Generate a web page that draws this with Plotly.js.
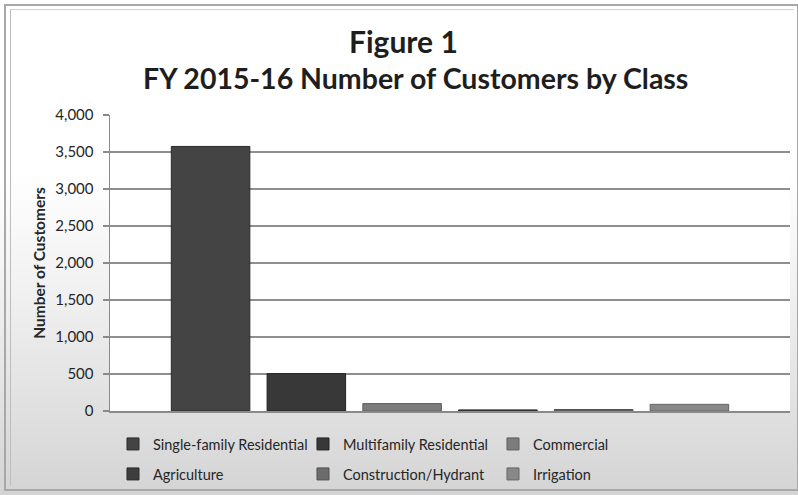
<!DOCTYPE html>
<html>
<head>
<meta charset="utf-8">
<script src="https://cdn.plot.ly/plotly-3.0.1.min.js"></script>
<style>
  html, body { margin: 0; padding: 0; background: #ffffff; }
  #wrap { position: relative; width: 798px; height: 495px; overflow: hidden;
    background: linear-gradient(to bottom, #ffffff 0%, #ffffff 35%, #f0f0f0 60%, #d4d4d4 100%); }
  #frame1 { position: absolute; left: 4px; top: 4px; width: 791px; height: 483px; border: 2px solid #a8a8a8; box-sizing: content-box; }
  #frame2 { position: absolute; left: 10px; top: 9px; width: 783px; height: 476px; border-left: 1px solid #bdbdbd; border-top: 1px solid #d0d0d0; }
  #chart { position: absolute; left: 0; top: 0; width: 798px; height: 495px; }
</style>
</head>
<body>
<div id="wrap">
  <div id="frame1"></div>
  <div id="frame2"></div>
  <div id="chart"></div>
</div>
<script>
// ---- data ----
const categories = ['Single-family Residential', 'Multifamily Residential', 'Commercial',
                    'Agriculture', 'Construction/Hydrant', 'Irrigation'];
const customers = [3575, 505, 100, 15, 20, 90];
const groupLabel = ['FY 2015-16'];
const yTickValues = [0, 500, 1000, 1500, 2000, 2500, 3000, 3500, 4000];
const yTickLabels = ['0', '500', '1,000', '1,500', '2,000', '2,500', '3,000', '3,500', '4,000'];
const titleLine1 = 'Figure 1';
const titleLine2 = 'FY 2015-16 Number of Customers by Class';
const yTitle = 'Number of Customers';

// ---- styles ----
const fills = ['#444444', '#383838', '#7c7c7c', '#3e3e3e', '#6c6c6c', '#888888'];
const edges = ['#2a2a2a', '#222222', '#5e5e5e', '#2a2a2a', '#505050', '#666666'];
const FONT = 'Lato, "Open Sans", "DejaVu Sans", sans-serif';

const traces = categories.map((name, i) => ({
  type: 'bar',
  name: name,
  x: groupLabel,
  y: [customers[i]],
  legend: i < 3 ? 'legend' : 'legend2',
  marker: { color: fills[i], line: { color: edges[i], width: 1 } },
  hoverinfo: 'name+y'
}));

const legendBase = {
  orientation: 'h',
  x: 0.0044, xanchor: 'left', xref: 'paper',
  yref: 'container', yanchor: 'middle',
  font: { family: FONT, size: 14.5, color: '#262626' },
  bgcolor: 'rgba(0,0,0,0)',
  entrywidth: 145, entrywidthmode: 'pixels',
  itemwidth: 30,
  traceorder: 'normal'
};

const layout = {
  width: 798, height: 495,
  paper_bgcolor: 'rgba(0,0,0,0)',
  plot_bgcolor: '#ffffff',
  margin: { l: 110, r: 8, t: 115, b: 84, pad: 0 },
  font: { family: FONT, color: '#2b2b2b', size: 13 },
  barmode: 'group',
  bargap: 0.155,
  bargroupgap: 0.18,
  showlegend: true,
  legend: Object.assign({}, legendBase, { y: 0.103 }),
  legend2: Object.assign({}, legendBase, { y: 0.0424 }),
  annotations: [
    { text: '<b>' + titleLine1 + '</b>', xref: 'paper', yref: 'paper', x: 0.432, y: 1.25,
      xanchor: 'center', yanchor: 'middle', showarrow: false,
      font: { family: FONT, size: 30, color: '#1e1e1e' } },
    { text: '<b>' + titleLine2 + '</b>', xref: 'paper', yref: 'paper', x: 0.449, y: 1.125,
      xanchor: 'center', yanchor: 'middle', showarrow: false,
      font: { family: FONT, size: 28.5, color: '#1e1e1e' } }
  ],
  xaxis: {
    type: 'category',
    showticklabels: false,
    showgrid: false,
    zeroline: false,
    showline: true, linecolor: '#8a8a8a', linewidth: 1.5,
    ticks: '', fixedrange: true
  },
  yaxis: {
    range: [0, 4000],
    tickvals: yTickValues,
    ticktext: yTickLabels,
    ticks: 'outside', ticklen: 6, tickcolor: '#8a8a8a', tickwidth: 1.5,
    ticklabelstandoff: 6,
    tickfont: { family: FONT, size: 15, color: '#262626' },
    showgrid: true, gridcolor: '#8e8e8e', gridwidth: 1.5,
    zeroline: false,
    showline: true, linecolor: '#8a8a8a', linewidth: 1.5,
    title: { text: '<b>' + yTitle + '</b>', font: { family: FONT, size: 15.5, color: '#262626' }, standoff: 6 },
    fixedrange: true
  }
};

Plotly.newPlot('chart', traces, layout, { displayModeBar: false, staticPlot: true });
</script>
</body>
</html>
